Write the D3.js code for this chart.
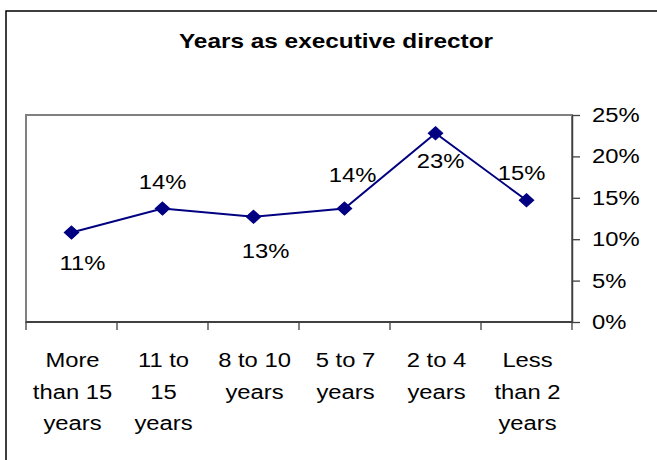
<!DOCTYPE html>
<html>
<head>
<meta charset="utf-8">
<script src="https://cdn.jsdelivr.net/npm/d3@7"></script>
<style>
  body { margin: 0; background: #fff; }
  svg { display: block; font-family: "Liberation Sans", Arial, sans-serif; }
</style>
</head>
<body>
<svg id="chart" width="657" height="460"></svg>
<script>
const categories = [
    ["More", "than 15", "years"],
    ["11 to", "15", "years"],
    ["8 to 10", "years"],
    ["5 to 7", "years"],
    ["2 to 4", "years"],
    ["Less", "than 2", "years"]
];
const values = [0.108, 0.137, 0.127, 0.137, 0.228, 0.147];
const valueLabels = ["11%", "14%", "13%", "14%", "23%", "15%"];
const yTicks = [0, 0.05, 0.10, 0.15, 0.20, 0.25];

// label placement (dx, dy from point), like the hand-moved excel labels
const labelOffsets = [[11, 37], [0, -20], [12, 41], [8, -27], [5, 35], [-5, -20]];

const width = 657, height = 460;
const plot = { left: 26, right: 572, top: 115, bottom: 322 };
const stretch = 1.19;  // the source picture is wider than tall, text looks stretched

const svg = d3.select("#chart");

// outer chart border (runs off the right and bottom of the picture)
svg.append("rect")
    .attr("x", 6)
    .attr("y", 11)
    .attr("width", 700)
    .attr("height", 500)
    .attr("fill", "#fff")
    .attr("stroke", "#000")
    .attr("stroke-width", 1.5);

svg.append("text")
    .attr("transform", `translate(336,48) scale(1.16,1)`)
    .attr("text-anchor", "middle")
    .attr("font-size", "21px")
    .attr("font-weight", "bold")
    .text("Years as executive director");

const keys = categories.map((c, i) => i);

const xScale = d3.scaleBand()
    .domain(keys)
    .range([plot.left, plot.right])
    .paddingInner(0)
    .paddingOuter(0);

const yScale = d3.scaleLinear()
    .domain([0, 0.25])
    .range([plot.bottom, plot.top]);

// plot area frame
svg.append("rect")
    .attr("x", plot.left)
    .attr("y", plot.top)
    .attr("width", plot.right - plot.left)
    .attr("height", plot.bottom - plot.top)
    .attr("fill", "none")
    .attr("stroke", "#808080")
    .attr("stroke-width", 2);

// bottom axis: ticks on the band edges
const edges = keys.map(k => xScale(k)).concat([xScale.range()[1]]);
const xAxis = svg.append("g");
xAxis.append("line")
    .attr("x1", plot.left).attr("x2", plot.right)
    .attr("y1", plot.bottom).attr("y2", plot.bottom)
    .attr("stroke", "#404040")
    .attr("stroke-width", 2);
xAxis.selectAll(".xtick")
    .data(edges)
    .join("line")
    .attr("class", "xtick")
    .attr("x1", d => d).attr("x2", d => d)
    .attr("y1", plot.bottom).attr("y2", plot.bottom + 8)
    .attr("stroke", "#404040")
    .attr("stroke-width", 1.3);

const catText = xAxis.selectAll(".cat")
    .data(categories)
    .join("text")
    .attr("class", "cat")
    .attr("transform", (d, i) => `translate(${xScale(i) + xScale.bandwidth() / 2 + 1},367) scale(${stretch},1)`)
    .attr("text-anchor", "middle")
    .attr("font-size", "20px")
    .attr("fill", "#000");
catText.selectAll("tspan")
    .data(d => d)
    .join("tspan")
    .attr("x", 0)
    .attr("y", (d, j) => j * 31.7)
    .text(d => d);

// right value axis
const yAxis = svg.append("g")
    .attr("transform", `translate(${plot.right},0)`)
    .call(d3.axisRight(yScale)
        .tickValues(yTicks)
        .tickFormat(d3.format(".0%"))
        .tickSizeInner(8)
        .tickSizeOuter(0)
        .tickPadding(12));
yAxis.select(".domain").attr("stroke", "#404040").attr("stroke-width", 1.5);
yAxis.selectAll(".tick line").attr("stroke", "#404040").attr("stroke-width", 1.3);
yAxis.selectAll("text")
    .attr("x", 0)
    .attr("transform", `translate(20,0) scale(${stretch},1)`)
    .attr("font-size", "20px")
    .attr("font-family", "Liberation Sans, Arial, sans-serif")
    .attr("fill", "#000");

// series line
const line = d3.line()
    .x((d, i) => xScale(i) + xScale.bandwidth() / 2)
    .y(d => yScale(d));

svg.append("path")
    .datum(values)
    .attr("d", line)
    .attr("fill", "none")
    .attr("stroke", "#000080")
    .attr("stroke-width", 2);

svg.selectAll(".marker")
    .data(values)
    .join("path")
    .attr("class", "marker")
    .attr("d", d3.symbol(d3.symbolDiamond2, 110)())
    .attr("transform", (d, i) => `translate(${xScale(i) + xScale.bandwidth() / 2},${yScale(d)}) scale(1.1,1)`)
    .attr("fill", "#000080")
    .attr("stroke", "#000080")
    .attr("stroke-width", 1);

svg.selectAll(".vlabel")
    .data(values)
    .join("text")
    .attr("class", "vlabel")
    .attr("transform", (d, i) => `translate(${xScale(i) + xScale.bandwidth() / 2 + labelOffsets[i][0]},${yScale(d) + labelOffsets[i][1]}) scale(${stretch},1)`)
    .attr("text-anchor", "middle")
    .attr("font-size", "20px")
    .attr("fill", "#000")
    .text((d, i) => valueLabels[i]);
</script>
</body>
</html>
